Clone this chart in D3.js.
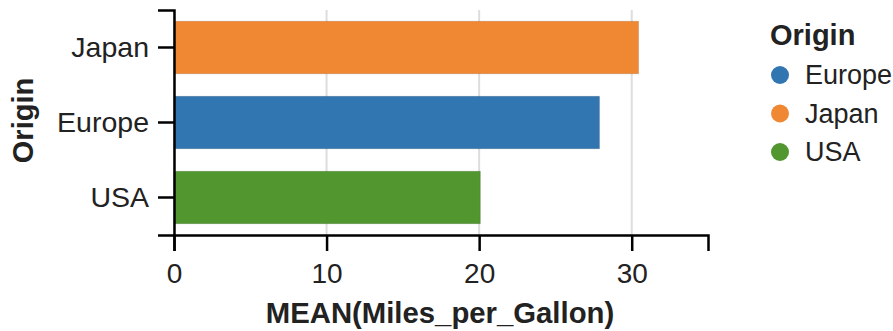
<!DOCTYPE html>
<html>
<head>
<meta charset="utf-8">
<script src="https://cdn.jsdelivr.net/npm/d3@7"></script>
<style>
  html, body { margin: 0; padding: 0; background: #fff; }
  svg { display: block; font-family: "Liberation Sans", Arial, Helvetica, sans-serif; }
</style>
</head>
<body>
<svg id="chart" width="893" height="331"></svg>
<script>
// ---- data ----
const categories = ["Japan", "Europe", "USA"];          // y order (top to bottom)
const meanMpg = [30.45, 27.89, 20.08];                    // MEAN(Miles_per_Gallon)
const legendOrder = ["Europe", "Japan", "USA"];
const colorRange = ["#3276b1", "#f08833", "#52962f"];     // Europe, Japan, USA
const xTicks = [0, 10, 20, 30];
const xDomainMax = 35;

const data = categories.map((c, i) => ({ origin: c, value: meanMpg[i] }));

// ---- layout ----
const pLeft = 174, pRight = 708, pTop = 10, pBottom = 235;
const svg = d3.select("#chart");

const x = d3.scaleLinear().domain([0, xDomainMax]).range([pLeft, pRight]);
const y = d3.scaleBand().domain(categories).range([pTop, pBottom])
  .paddingInner(0.3).paddingOuter(0.15);
const color = d3.scaleOrdinal().domain(legendOrder).range(colorRange);

// grid
svg.append("g").selectAll("line").data(xTicks).join("line")
  .attr("x1", d => x(d)).attr("x2", d => x(d))
  .attr("y1", pTop).attr("y2", pBottom)
  .attr("stroke", "#dddddd").attr("stroke-width", 2);

// bars
svg.append("g").selectAll("rect").data(data).join("rect")
  .attr("x", x(0))
  .attr("y", d => y(d.origin))
  .attr("width", d => x(d.value) - x(0))
  .attr("height", y.bandwidth())
  .attr("fill", d => color(d.origin))
  .attr("stroke", "rgba(0,0,0,0.12)")
  .attr("stroke-width", 1);

// x axis
const xAxis = svg.append("g")
  .attr("transform", `translate(0,${pBottom})`)
  .call(d3.axisBottom(x).tickValues(xTicks).tickFormat(d3.format("d"))
    .tickSize(16).tickSizeOuter(16).tickPadding(12));
xAxis.selectAll("path, line").attr("stroke", "#000").attr("stroke-width", 2.5);
xAxis.selectAll("text").attr("font-size", 28).attr("fill", "#222")
  .attr("font-family", "Liberation Sans, Arial, sans-serif");

// y axis
const yAxis = svg.append("g")
  .attr("transform", `translate(${pLeft},0)`)
  .call(d3.axisLeft(y).tickSize(16).tickSizeOuter(16).tickPadding(9));
yAxis.selectAll("path, line").attr("stroke", "#000").attr("stroke-width", 2.5);
yAxis.selectAll("text").attr("font-size", 28.5).attr("fill", "#222")
  .attr("font-family", "Liberation Sans, Arial, sans-serif");

// axis titles
svg.append("text")
  .attr("x", (pLeft + pRight) / 2 - 1).attr("y", 323)
  .attr("text-anchor", "middle")
  .attr("font-size", 29.3).attr("font-weight", "bold").attr("fill", "#222")
  .text("MEAN(Miles_per_Gallon)");

svg.append("text")
  .attr("transform", `translate(33,${(pTop + pBottom) / 2 - 2}) rotate(-90)`)
  .attr("text-anchor", "middle")
  .attr("font-size", 29).attr("font-weight", "bold").attr("fill", "#222")
  .text("Origin");

// legend
const lg = svg.append("g");
lg.append("text")
  .attr("x", 770).attr("y", 45)
  .attr("font-size", 29).attr("font-weight", "bold").attr("fill", "#222")
  .text("Origin");
const items = lg.selectAll("g.item").data(legendOrder).join("g")
  .attr("class", "item")
  .attr("transform", (d, i) => `translate(780,${75 + i * 38.5})`);
items.append("circle").attr("r", 9).attr("fill", d => color(d));
items.append("text")
  .attr("x", 25).attr("dy", "0.35em")
  .attr("font-size", 27).attr("fill", "#222")
  .text(d => d);
</script>
</body>
</html>
